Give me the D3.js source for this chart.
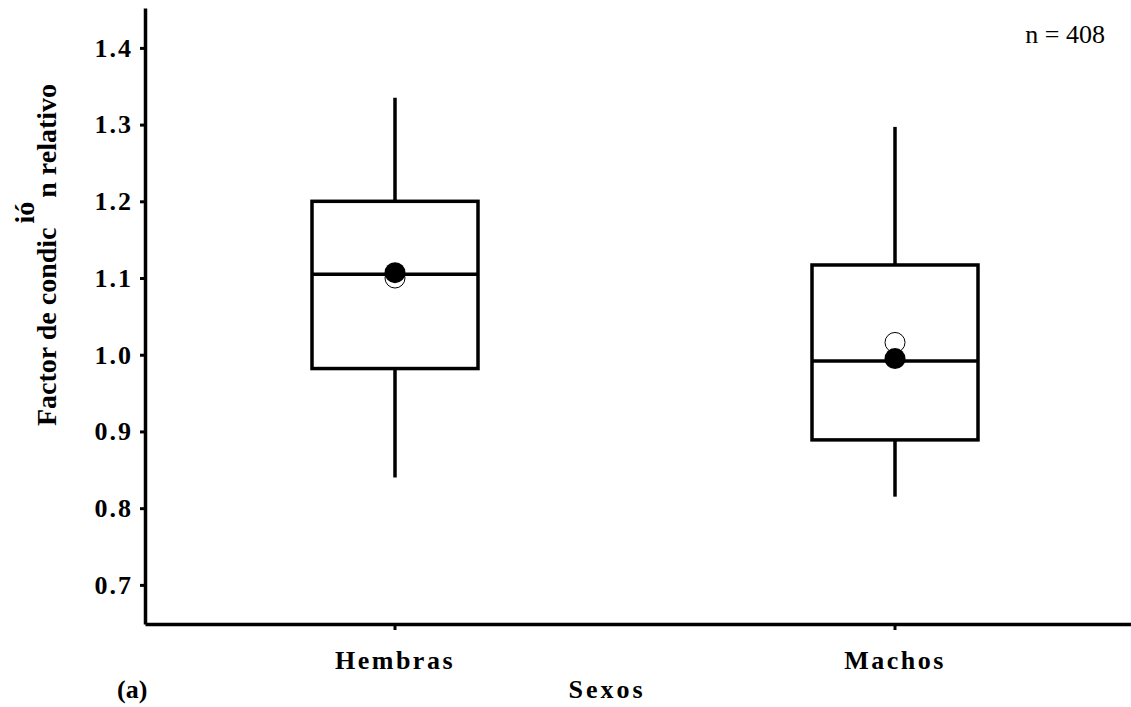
<!DOCTYPE html>
<html>
<head>
<meta charset="utf-8">
<script src="https://cdn.jsdelivr.net/npm/d3@7"></script>
<style>
  body { margin: 0; background: #fff; }
  text { font-family: "Liberation Serif", "Times New Roman", serif; }
</style>
</head>
<body>
<svg id="boxSvg" width="1131" height="707"></svg>
<script>
const categories = ["Hembras", "Machos"];
const whiskerLow = [0.840, 0.815];
const q1 = [0.982, 0.889];
const median = [1.105, 0.992];
const q3 = [1.200, 1.117];
const whiskerHigh = [1.335, 1.297];
const meanFilled = [1.107, 0.995];
const meanOpen = [1.100, 1.016];
const yTicks = [0.7, 0.8, 0.9, 1.0, 1.1, 1.2, 1.3, 1.4];

const data = categories.map((c, i) => ({
    cat: c, lo: whiskerLow[i], q1: q1[i], med: median[i], q3: q3[i], hi: whiskerHigh[i],
    mFill: meanFilled[i], mOpen: meanOpen[i]
}));

const svg = d3.select("#boxSvg");
const margin = { top: 8, left: 145 };
const width = 1000;
const height = 616;

const g = svg.append("g").attr("transform", `translate(${margin.left},${margin.top})`);

const x = d3.scaleBand()
    .domain(categories)
    .range([0, width])
    .paddingInner(0.668)
    .paddingOuter(0.334);

const y = d3.scaleLinear()
    .domain([0.649, 1.452])
    .range([height, 0]);

const boxes = g.selectAll(".box")
    .data(data)
    .enter()
    .append("g")
    .attr("class", "box");

const cx = d => x(d.cat) + x.bandwidth() / 2;

// whiskers
boxes.append("line")
    .attr("x1", cx).attr("x2", cx)
    .attr("y1", d => y(d.hi)).attr("y2", d => y(d.q3))
    .attr("stroke", "#000").attr("stroke-width", 3.5);
boxes.append("line")
    .attr("x1", cx).attr("x2", cx)
    .attr("y1", d => y(d.q1)).attr("y2", d => y(d.lo))
    .attr("stroke", "#000").attr("stroke-width", 3.5);

boxes.append("rect")
    .attr("x", d => x(d.cat))
    .attr("y", d => y(d.q3))
    .attr("width", x.bandwidth())
    .attr("height", d => y(d.q1) - y(d.q3))
    .attr("fill", "#fff")
    .attr("stroke", "#000")
    .attr("stroke-width", 3.5);

boxes.append("line")
    .attr("x1", d => x(d.cat)).attr("x2", d => x(d.cat) + x.bandwidth())
    .attr("y1", d => y(d.med)).attr("y2", d => y(d.med))
    .attr("stroke", "#000").attr("stroke-width", 3.5);

boxes.append("circle")
    .attr("cx", cx)
    .attr("cy", d => y(d.mOpen))
    .attr("r", 10)
    .attr("fill", "#fff")
    .attr("stroke", "#000")
    .attr("stroke-width", 1);

boxes.append("circle")
    .attr("cx", cx)
    .attr("cy", d => y(d.mFill))
    .attr("r", 10.5)
    .attr("fill", "#000");

// axes
const yAxis = g.append("g")
    .call(d3.axisLeft(y).tickValues(yTicks).tickFormat(d3.format(".1f")).tickSize(5).tickSizeOuter(0).tickPadding(7));
const xAxis = g.append("g")
    .attr("transform", `translate(0,${height})`)
    .call(d3.axisBottom(x).tickSize(6).tickSizeOuter(0).tickPadding(10));

[yAxis, xAxis].forEach(a => {
    a.select(".domain").attr("stroke-width", 3.5);
    a.selectAll(".tick line").attr("stroke-width", 3);
    a.selectAll("text")
        .attr("fill", "#000")
        .style("font-family", "'Liberation Serif', serif")
        .style("font-weight", "bold")
        .style("font-size", "26px")
        .style("letter-spacing", "2px");
});
xAxis.selectAll("text").attr("dy", "1.1em").style("letter-spacing", "2.5px");

svg.append("text")
    .attr("x", 607).attr("y", 698)
    .attr("text-anchor", "middle")
    .style("font-weight", "bold").style("font-size", "26px").style("letter-spacing", "3px")
    .text("Sexos");

svg.append("text")
    .attr("x", 117).attr("y", 698)
    .style("font-weight", "bold").style("font-size", "26px")
    .text("(a)");

svg.append("text")
    .attr("x", 1105).attr("y", 43)
    .attr("text-anchor", "end")
    .style("font-size", "26px")
    .text("n = 408");

const yLabel = svg.append("text")
    .attr("transform", "translate(56,255) rotate(-90)")
    .attr("text-anchor", "middle")
    .style("font-weight", "bold").style("font-size", "28px");
yLabel.append("tspan").text("Factor de condic");
yLabel.append("tspan").attr("dy", "-0.8em").attr("dx", "4").text("ió");
yLabel.append("tspan").attr("dy", "0.8em").attr("dx", "4").text("n relativo");
</script>
</body>
</html>
